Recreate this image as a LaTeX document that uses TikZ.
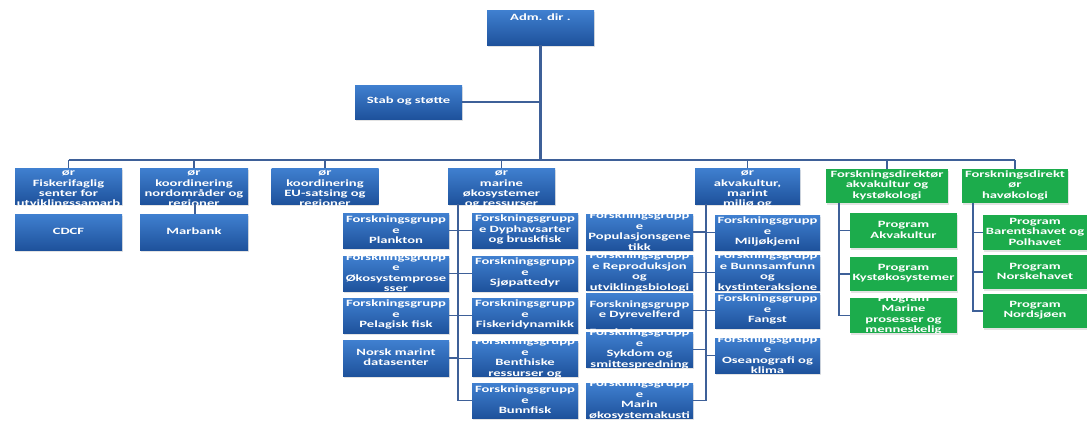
\documentclass[tikz,border=0pt]{standalone}
\usepackage{fontspec}
\newfontfamily\boxfont[FakeStretch=1.52]{Carlito}
\usetikzlibrary{shadows}
\definecolor{bluetop}{RGB}{64,128,208}
\definecolor{bluebot}{RGB}{30,82,156}
\definecolor{boxgreen}{RGB}{28,172,76}
\definecolor{linec}{RGB}{62,96,152}
\newcommand\bx[4][c]{\parbox[c][#3][#1]{#2}{\centering\boxfont\bfseries\fontsize{9.6pt}{10.6pt}\selectfont #4\par\vspace{1.5pt}}}
\newcommand\bxd[3]{\parbox[c][#2][c]{#1}{\vspace*{7pt}\centering\boxfont\bfseries\fontsize{9.6pt}{10.4pt}\selectfont #3\par}}
\tikzset{
  bluebox/.style={inner sep=0pt, outer sep=0pt, text=white, top color=bluetop, bottom color=bluebot,
    drop shadow={opacity=0.22, shadow xshift=0.8pt, shadow yshift=-2pt}},
  greenbox/.style={inner sep=0pt, outer sep=0pt, text=white, fill=boxgreen,
    drop shadow={opacity=0.22, shadow xshift=0.8pt, shadow yshift=-2pt}},
  conn/.style={draw=linec, line width=1.6pt},
  mainconn/.style={draw=linec, line width=2.8pt},
}
\begin{document}
\begin{tikzpicture}[x=1pt, y=-1pt]
\useasboundingbox (0,0) rectangle (1087,421);
\fill[white] (0,0) rectangle (1087,421);

% top
\node[bluebox] (adm) at (540.5,27.5) {\bx[t]{107pt}{35pt}{\vspace{4pt}Adm. dir .}};
\node[bluebox] (stab) at (408.5,102) {\bx{107pt}{34pt}{Stab og støtte}};

% directors
\node[bluebox] (d1) at (68.5,186) {\bxd{107pt}{36pt}{ør\\Fiskerifaglig\\senter for\\utviklingssamarb}};
\node[bluebox] (d2) at (194,186) {\bxd{108pt}{36pt}{ør\\koordinering\\nordområder og\\regioner}};
\node[bluebox] (d3) at (325,186) {\bxd{107pt}{36pt}{ør\\koordinering\\EU-satsing og\\regioner}};
\node[bluebox] (d4) at (501.5,186) {\bxd{107pt}{36pt}{ør\\marine\\økosystemer\\og ressurser}};
\node[bluebox] (d5) at (747.5,186) {\bxd{105pt}{36pt}{ør\\akvakultur,\\marint\\miljø og}};
\node[greenbox] (g1) at (887,186) {\bx{122pt}{34pt}{Forskningsdirektør\\akvakultur og\\kystøkologi}};
\node[greenbox] (g2) at (1015,186) {\bx{106pt}{34pt}{Forskningsdirekt\\ør\\havøkologi}};

% left column
\node[bluebox] (cdcf) at (68.5,232) {\bx{107pt}{36pt}{CDCF}};
\node[bluebox] (marbank) at (194,232) {\bx{108pt}{36pt}{Marbank}};

% marine: left
\node[bluebox] (plankton) at (396,230.5) {\bx{106pt}{35pt}{Forskningsgrupp\\e\\Plankton}};
\node[bluebox] (okosys) at (396,273.5) {\bx{106pt}{35pt}{Forskningsgrupp\\e\\Økosystemprose\\sser}};
\node[bluebox] (pelagisk) at (396,315.5) {\bx{106pt}{35pt}{Forskningsgrupp\\e\\Pelagisk fisk}};
\node[bluebox] (nmd) at (396,358) {\bx{106pt}{36pt}{Norsk marint\\datasenter}};
% marine: right
\node[bluebox] (dyphav) at (525,230.5) {\bx{106pt}{35pt}{Forskningsgrupp\\e Dyphavsarter\\og bruskfisk}};
\node[bluebox] (sjopatt) at (525,273.5) {\bx{106pt}{35pt}{Forskningsgrupp\\e\\Sjøpattedyr}};
\node[bluebox] (fiskdyn) at (525,315.5) {\bx{106pt}{35pt}{Forskningsgrupp\\e\\Fiskeridynamikk}};
\node[bluebox] (benth) at (525,358.5) {\bx{106pt}{35pt}{Forskningsgrupp\\e\\Benthiske\\ressurser og}};
\node[bluebox] (bunnfisk) at (525,400.5) {\bx{106pt}{35pt}{Forskningsgrupp\\e\\Bunnfisk}};

% akvakultur: left
\node[bluebox] (popgen) at (639.5,232) {\bx{107pt}{36pt}{Forskningsgrupp\\e\\Populasjonsgene\\tikk}};
\node[bluebox] (repro) at (639.5,272.5) {\bx{107pt}{35pt}{Forskningsgrupp\\e Reproduksjon\\og\\utviklingsbiologi}};
\node[bluebox] (dyrev) at (639.5,310.5) {\bx{107pt}{35pt}{Forskningsgrupp\\e Dyrevelferd}};
\node[bluebox] (sykdom) at (639.5,349.5) {\bx{107pt}{35pt}{Forskningsgrupp\\e\\Sykdom og\\smittespredning}};
\node[bluebox] (akustikk) at (639.5,400.5) {\bx{107pt}{35pt}{Forskningsgrupp\\e\\Marin\\økosystemakusti}};
% akvakultur: right
\node[bluebox] (miljo) at (767.5,232.5) {\bx{105pt}{35pt}{Forskningsgrupp\\e\\Miljøkjemi}};
\node[bluebox] (bunnsam) at (767.5,272.5) {\bx{105pt}{35pt}{Forskningsgrupp\\e Bunnsamfunn\\og\\kystinteraksjone}};
\node[bluebox] (fangst) at (767.5,310.5) {\bx{105pt}{35pt}{Forskningsgrupp\\e\\Fangst}};
\node[bluebox] (oseano) at (767.5,355.5) {\bx{105pt}{35pt}{Forskningsgrupp\\e\\Oseanografi og\\klima}};

% green programs
\node[greenbox] (pakva) at (903.5,230.5) {\bx{107pt}{35pt}{Program\\Akvakultur}};
\node[greenbox] (pkyst) at (903.5,274) {\bx{107pt}{34pt}{Program\\Kystøkosystemer}};
\node[greenbox] (pmarine) at (903.5,315.5) {\bx{107pt}{35pt}{Program\\Marine\\prosesser og\\menneskelig}};
\node[greenbox] (pbarents) at (1035,232.5) {\bx{104pt}{35pt}{Program\\Barentshavet og\\Polhavet}};
\node[greenbox] (pnorske) at (1035,272) {\bx{104pt}{34pt}{Program\\Norskehavet}};
\node[greenbox] (pnordsjo) at (1035,311) {\bx{104pt}{34pt}{Program\\Nordsjøen}};

% connectors
\coordinate (busL) at (68.5,160);
\coordinate (busR) at (1015,160);
\coordinate (s4) at (458,204);
\coordinate (s5) at (706,204);
\coordinate (sg1) at (839,203);
\coordinate (sg2) at (973,203);
\coordinate (sm) at (195,204);

\draw[mainconn] (adm.south) -- (adm.south |- busL);
\draw[conn] (stab.east) -- (stab.east -| adm.south);
\draw[conn, line width=2pt] (busL) -- (busR);
\foreach \n in {d1,d2,d3,d4,d5,g1,g2} \draw[conn] (\n.north) -- (\n.north |- busL);
\draw[conn] (sm) -- (sm |- marbank.north);

\draw[conn] (s4) -- (s4 |- bunnfisk.west);
\foreach \n in {plankton,okosys,pelagisk,nmd} \draw[conn] (\n.east) -- (\n.east -| s4);
\foreach \n in {dyphav,sjopatt,fiskdyn,benth,bunnfisk} \draw[conn] (\n.west) -- (\n.west -| s4);

\draw[conn] (s5) -- (s5 |- akustikk.east);
\foreach \n in {popgen,repro,dyrev,sykdom,akustikk} \draw[conn] (\n.east) -- (\n.east -| s5);
\foreach \n in {miljo,bunnsam,fangst,oseano} \draw[conn] (\n.west) -- (\n.west -| s5);

\draw[conn] (sg1) -- (sg1 |- pmarine.west) -- (pmarine.west);
\foreach \n in {pakva,pkyst} \draw[conn] (\n.west) -- (\n.west -| sg1);
\draw[conn] (sg2) -- (sg2 |- pnordsjo.west) -- (pnordsjo.west);
\foreach \n in {pbarents,pnorske} \draw[conn] (\n.west) -- (\n.west -| sg2);
\end{tikzpicture}
\end{document}
